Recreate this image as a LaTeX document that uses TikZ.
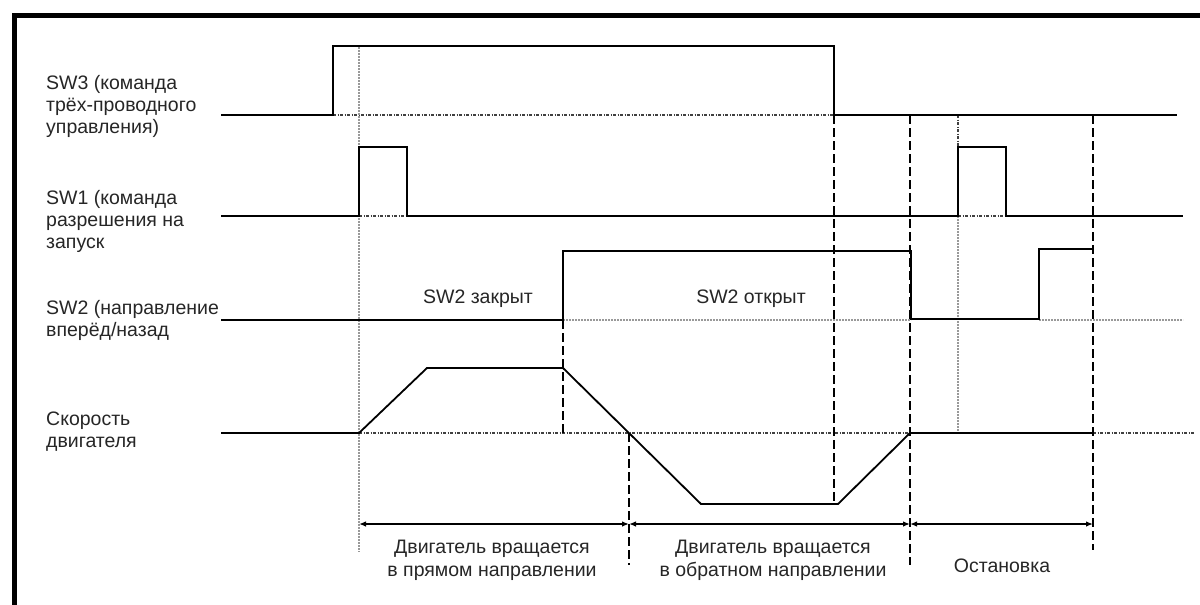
\documentclass[tikz,border=0pt]{standalone}
\usepackage{fontspec}
\setmainfont{Liberation Sans}
\usetikzlibrary{arrows.meta}
\begin{document}
\begin{tikzpicture}[x=1pt,y=-1pt,
  sig/.style={line width=1.8pt, black},
  refl/.style={line width=1.3pt, black!75, dash pattern=on 3pt off 1.5pt on 1pt off 1.5pt},
  gdot/.style={line width=1.8pt, black!40, dash pattern=on 2pt off 1pt},
  vdash/.style={line width=1.5pt, black, dash pattern=on 9pt off 4pt},
  lbl/.style={font=\fontsize{19.5}{22}\selectfont, align=left, anchor=west, inner sep=0pt, text=black!85},
  clbl/.style={font=\fontsize{19.5}{23}\selectfont, align=center, inner sep=0pt, text=black!85},
  dim/.style={line width=1.3pt, {Latex[length=7pt,width=5.5pt]}-{Latex[length=7pt,width=5.5pt]}},
]
\useasboundingbox (0,0) rectangle (1200,605);
\clip (0,0) rectangle (1200,605);
\fill[white] (0,0) rectangle (1200,605);
% frame
\draw[line width=5pt] (14,615) -- (14,15) -- (1215,15);

% reference (zero) lines
\draw[refl] (333,115) -- (834,115);
\draw[refl] (359,216) -- (407,216);
\draw[refl] (958,216) -- (1006,216);
\draw[gdot] (563,320) -- (911,320);
\draw[gdot] (1039,320) -- (1183,320);
\draw[refl] (359,433) -- (910,433);
\draw[refl] (1093,433) -- (1195,433);

% vertical markers
\draw[gdot] (359,47) -- (359,552);
\draw[vdash] (563,320) -- (563,433);
\draw[vdash] (629,433) -- (629,565);
\draw[vdash] (834,115) -- (834,504);
\draw[vdash] (910,115) -- (910,565);
\draw[refl] (958,115) -- (958,147);
\draw[gdot] (958,216) -- (958,433);
\draw[vdash] (1093,115) -- (1093,550);

% SW3
\draw[sig] (221,115) -- (333,115) -- (333,46) -- (834,46) -- (834,115) -- (1177,115);
% SW1
\draw[sig] (221,216) -- (359,216) -- (359,147) -- (407,147) -- (407,216) -- (958,216)
  -- (958,147) -- (1006,147) -- (1006,216) -- (1183,216);
% SW2
\draw[sig] (221,320) -- (563,320) -- (563,251) -- (911,251) -- (911,319) -- (1039,319)
  -- (1039,249) -- (1093,249);
% Speed
\draw[sig] (221,433) -- (359,433) -- (427,368) -- (563,368) -- (701,504) -- (838,504)
  -- (910,433) -- (1093,433);

% labels
\node[lbl] (l3) at (46,106) {SW3 (команда\\трёх-проводного\\управления)};
\node[lbl] (l1) at (46,221) {SW1 (команда\\разрешения на\\запуск};
\node[lbl] (l2) at (46,320) {SW2 (направление\\вперёд/назад};
\node[lbl] (ls) at (46,432) {Скорость\\двигателя};
\node[clbl] (c1) at (478,299) {SW2 закрыт};
\node[clbl] (c2) at (751,299) {SW2 открыт};

% dimension arrows
\draw[dim] (359,524) -- (629,524);
\draw[dim] (629,524) -- (910,524);
\draw[dim] (910,524) -- (1093,524);
\node[clbl] (b1) at (492,560) {Двигатель вращается\\в прямом направлении};
\node[clbl] (b2) at (773,560) {Двигатель вращается\\в обратном направлении};
\node[clbl] (b3) at (1002,566) {Остановка};
\end{tikzpicture}
\end{document}
